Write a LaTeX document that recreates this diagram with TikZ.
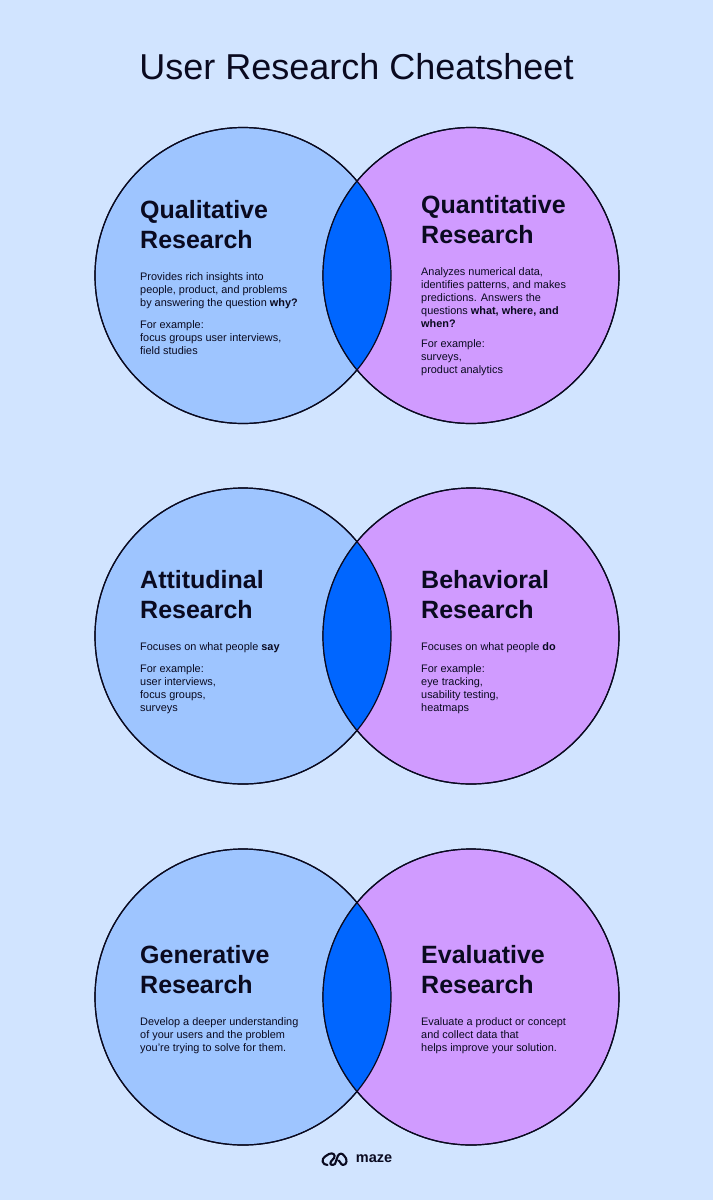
\documentclass[tikz,border=0pt]{standalone}
\usepackage{fontspec}
\setmainfont{Liberation Sans}
\usetikzlibrary{positioning}
\definecolor{pagebg}{HTML}{D1E4FF}
\definecolor{softblue}{HTML}{9EC5FF}
\definecolor{softpurple}{HTML}{D09BFF}
\definecolor{lensblue}{HTML}{0066FF}
\definecolor{inkdark}{HTML}{0A0A20}

\begin{document}
\begin{tikzpicture}[
  x=1pt, y=-1pt,
  node distance=11pt,
  venn/.style={circle, draw=inkdark, line width=1.2pt, minimum size=296pt, inner sep=0pt},
  heading/.style={anchor=north west, inner sep=0pt, align=left, text=inkdark, font=\fontsize{25}{30}\selectfont\bfseries},
  bodytext/.style={anchor=north west, inner sep=0pt, align=left, text=inkdark, font=\fontsize{10.9}{13}\selectfont},
  lens/.style={fill=lensblue}
]
\useasboundingbox[fill=pagebg] (0,0) rectangle (713,1200);
\node[inner sep=0pt, text=inkdark, font=\fontsize{36}{40}\selectfont] (title) at (356.5,67) {User Research Cheatsheet};

% first row
\node[venn, fill=softblue] (qual) at (243,275.5) {};
\node[venn, fill=softpurple] (quant) at (471,275.5) {};
\begin{scope}
  \clip (243,275.5) circle (148pt);
  \fill[lens] (471,275.5) circle (148pt);
\end{scope}
\draw[inkdark, line width=1.2pt] (243,275.5) circle (148pt);
\draw[inkdark, line width=1.2pt] (471,275.5) circle (148pt);
\node[heading] (qualhead) at (140,200) {Qualitative\\Research};
\node[bodytext, below=24pt of qualhead.south west, anchor=north west] (qualtext) {Provides rich insights into\\people, product, and problems\\by answering the question \textbf{why?}};
\node[bodytext, below=of qualtext.south west, anchor=north west] (qualex) {For example:\\focus groups user interviews,\\field studies};
\node[heading] (quanthead) at (421,195) {Quantitative\\Research};
\node[bodytext, below=24pt of quanthead.south west, anchor=north west] (quanttext) {Analyzes numerical data,\\identifies patterns, and makes\\predictions. Answers the\\questions \textbf{what, where, and}\\\textbf{when?}};
\node[bodytext, below=of quanttext.south west, anchor=north west] (quantex) {For example:\\surveys,\\product analytics};

% second row
\node[venn, fill=softblue] (atti) at (243,636) {};
\node[venn, fill=softpurple] (beha) at (471,636) {};
\begin{scope}
  \clip (243,636) circle (148pt);
  \fill[lens] (471,636) circle (148pt);
\end{scope}
\draw[inkdark, line width=1.2pt] (243,636) circle (148pt);
\draw[inkdark, line width=1.2pt] (471,636) circle (148pt);
\node[heading] (attihead) at (140,570) {Attitudinal\\Research};
\node[bodytext, below=24pt of attihead.south west, anchor=north west] (attitext) {Focuses on what people \textbf{say}};
\node[bodytext, below=of attitext.south west, anchor=north west] (attiex) {For example:\\user interviews,\\focus groups,\\surveys};
\node[heading] (behahead) at (421,570) {Behavioral\\Research};
\node[bodytext, below=24pt of behahead.south west, anchor=north west] (behatext) {Focuses on what people \textbf{do}};
\node[bodytext, below=of behatext.south west, anchor=north west] (behaex) {For example:\\eye tracking,\\usability testing,\\heatmaps};

% third row
\node[venn, fill=softblue] (gene) at (243,997) {};
\node[venn, fill=softpurple] (eval) at (471,997) {};
\begin{scope}
  \clip (243,997) circle (148pt);
  \fill[lens] (471,997) circle (148pt);
\end{scope}
\draw[inkdark, line width=1.2pt] (243,997) circle (148pt);
\draw[inkdark, line width=1.2pt] (471,997) circle (148pt);
\node[heading] (genehead) at (140,945) {Generative\\Research};
\node[bodytext, below=24pt of genehead.south west, anchor=north west] (genetext) {Develop a deeper understanding\\of your users and the problem\\you're trying to solve for them.};
\node[heading] (evalhead) at (421,945) {Evaluative\\Research};
\node[bodytext, below=24pt of evalhead.south west, anchor=north west] (evaltext) {Evaluate a product or concept\\and collect data that\\helps improve your solution.};

% logo
\node[inner sep=0pt, text=inkdark, font=\fontsize{14.5}{16}\selectfont\bfseries] (mazeword) at (374,1159) {maze};
\draw[inkdark, line width=2.1pt, line cap=round, line join=round]
  (327.5,1165) .. controls (322,1165) and (321,1159) .. (325,1156.5)
  -- (329,1154) .. controls (333,1152) and (336,1155) .. (334,1158)
  -- (331,1161.5) .. controls (329,1164.5) and (332,1166) .. (335,1164)
  -- (338,1155.5) .. controls (340,1153) and (342,1153) .. (344,1155.5)
  .. controls (348,1159) and (347,1165) .. (343,1165)
  .. controls (341,1165) and (340,1161) .. (338.5,1160.5);
\end{tikzpicture}
\end{document}
